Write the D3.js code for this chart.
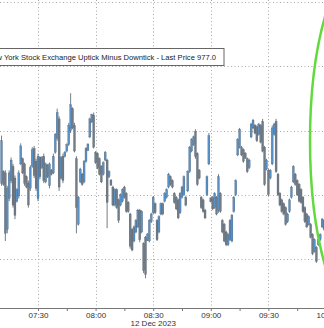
<!DOCTYPE html>
<html>
<head>
<meta charset="utf-8">
<script src="https://cdn.jsdelivr.net/npm/d3@7/dist/d3.min.js"></script>
<style>
    html, body { margin: 0; padding: 0; background: #fff; }
    svg { display: block; }
    text { font-family: 'Liberation Sans', Arial, sans-serif; }
</style>
</head>
<body>
<div id="chart"></div>
<script>
// NYSE TICK, 1 minute bars from 07:11 (12 Dec 2023)
const opens = [
    90, 180, 170, -270, -30, 110, 220, 130, -50, -10, 240, 280, 240, 140, 90, 50, 220, 360, 260, -30,
    290, 210, 300, 100, 230, 70, 190, 170, 330, 440, 590, 130, 300, 300, 340, 390, 500, 670, 540, 280,
    -230, 100, 160, 100, 260, 345, 450, 565, 620, 330, 320, 280, 220, 160, 270, 270, 140, 115, 60, -80,
    40, -40, -80, -50, 60, 10, -60, -150, -270, -360, -290, -250, -120, -290, -380, -330, -355, -360, -210, -140,
    -70, -200, -290, -150, -70, -50, -20, 60, 140, 110, 10, -20, -40, -140, -20, 0, -20, 30, 180, 340,
    390, 490, 320, 190, -20, -40, -120, 0, 240, -25, -20, -100, -20, -120, 10, -200, -230, -290, -390, -350,
    -360, -130, 0, 310, 370, 370, 350, 325, 280, 210, 450, 520, 540, 530, 470, 540, 570, 370, 200, 190,
    130, 240, 470, 570, 160, 10, -40, -70, -100, -210, -130, -20, 100, 160, 110, 80, 40, -20, -100, -150,
    -230, -230, -310, -440, -410, -390, -350, -250, -200
];
const highs = [
    460, 190, 190, 70, 190, 290, 240, 150, 50, 190, 400, 290, 250, 150, 110, 230, 370, 380, 280, 320,
    300, 300, 320, 250, 240, 250, 200, 320, 480, 670, 610, 300, 320, 340, 400, 560, 790, 680, 560, 300,
    -10, 210, 170, 270, 370, 400, 600, 630, 640, 340, 330, 290, 230, 260, 340, 280, 190, 120, 70, 50,
    50, -30, 10, 50, 70, 20, -50, -140, -260, -240, -190, -110, -110, -120, -370, -320, -300, -190, -140, -10,
    -60, -190, -160, -60, -60, 20, 50, 170, 150, 120, 20, -10, -30, 20, 70, 150, -10, 190, 380, 440,
    460, 510, 330, 200, -10, -30, -110, 150, 480, -20, -10, 20, -10, 160, 20, -190, -220, -280, -300, -190,
    -150, -10, 120, 440, 520, 380, 360, 330, 290, 280, 560, 590, 550, 540, 560, 550, 590, 380, 280, 200,
    200, 540, 560, 590, 170, 20, -30, -60, -90, -140, -30, 70, 230, 170, 120, 90, 50, -10, -90, -140,
    -160, -220, -300, -340, -400, -340, -300, -180, -190
];
const lows = [
    70, 70, -360, -300, -50, 90, -100, -190, -60, -30, 230, 160, 70, 50, -100, 30, 210, 130, 30, -50,
    120, 200, 90, 90, 130, 50, 150, 160, 320, 420, 30, 120, 90, 290, 330, 380, 480, 510, 330, -300,
    -240, 90, 70, 90, 250, 340, 440, 560, 360, 240, 200, 150, 90, 150, 260, -260, 130, 70, -90, -90,
    -110, -220, -90, -60, -30, -140, -140, -420, -440, -370, -300, -260, -370, -300, -610, -650, -360, -370, -220, -150,
    -150, -360, -300, -160, -160, -60, -30, 50, 70, 50, -70, -120, -190, -150, -30, -10, -90, 20, 170, 330,
    380, 280, 70, 120, -110, -140, -190, -10, 230, -60, -120, -110, -160, -140, -140, -300, -370, -400, -400, -360,
    -370, -140, -10, 300, 360, 300, 250, 280, 170, 200, 440, 510, 470, 410, 460, 400, 330, 70, 190, -10,
    120, 230, 460, 170, -10, -90, -140, -160, -240, -220, -140, -30, 90, 70, -10, -60, -70, -140, -220, -260,
    -240, -340, -470, -450, -530, -400, -360, -260, -280
];
const closes = [
    420, 80, -300, 50, 170, 270, -80, -160, 40, 170, 380, 170, 90, 60, -80, 210, 350, 150, 50, 300,
    140, 290, 110, 240, 140, 240, 160, 300, 470, 640, 60, 290, 110, 330, 390, 540, 700, 520, 340, -100,
    -20, 200, 80, 260, 360, 395, 590, 625, 370, 250, 210, 160, 100, 250, 330, -60, 180, 75, -80, 40,
    -100, -200, 0, 40, -20, -130, -130, -400, -430, -250, -200, -120, -350, -130, -590, -620, -305, -200, -150, -20,
    -140, -350, -170, -70, -150, 10, 40, 160, 80, 60, -60, -110, -180, 10, 60, 140, -80, 180, 370, 430,
    450, 300, 80, 130, -100, -130, -180, 140, 460, -55, -110, 10, -150, 140, -130, -290, -360, -390, -310, -200,
    -160, -20, 110, 430, 510, 310, 260, 285, 180, 270, 550, 580, 480, 420, 550, 410, 340, 80, 270, 0,
    190, 520, 550, 180, 0, -80, -130, -150, -230, -150, -40, 60, 220, 80, 0, -50, -60, -130, -210, -250,
    -170, -330, -460, -350, -520, -350, -310, -190, -270
];
const gridValues = [-500, 0, 500, 1000, 1500];
const tickLabels = ['07:30', '08:00', '08:30', '09:00', '09:30', '10:00'];
const dateLabel = '12 Dec 2023';
const legendText = 'New York Stock Exchange Uptick Minus Downtick - Last Price 977.0';

const width = 324;
const height = 328;
const axisY = 308;

const parse = d3.timeParse('%Y-%m-%d %H:%M');
const start = parse('2023-12-12 07:11');
const times = opens.map((d, i) => d3.timeMinute.offset(start, i));

const x = d3.scaleTime()
    .domain([parse('2023-12-12 07:30'), parse('2023-12-12 10:00')])
    .range([38, 326]);

const y = d3.scaleLinear().domain([-500, 1500]).range([259, 2]);

const svg = d3.select('#chart').append('svg').attr('width', width).attr('height', height);

// dotted grid
const majorTicks = tickLabels.map(t => parse('2023-12-12 ' + t));

svg.append('g')
    .selectAll('line')
    .data(gridValues)
    .join('line')
    .attr('x1', 0)
    .attr('x2', width)
    .attr('y1', d => Math.round(y(d)) + 0.5)
    .attr('y2', d => Math.round(y(d)) + 0.5)
    .attr('stroke', '#a8a8a8')
    .attr('stroke-dasharray', '1,2.5');

svg.append('g')
    .selectAll('line')
    .data(majorTicks)
    .join('line')
    .attr('x1', d => Math.round(x(d)) + 0.5)
    .attr('x2', d => Math.round(x(d)) + 0.5)
    .attr('y1', 0)
    .attr('y2', axisY)
    .attr('stroke', '#a8a8a8')
    .attr('stroke-dasharray', '1,2.5');

// candles
const bw = 2;
const candles = svg.append('g')
    .selectAll('g')
    .data(times.map((t, i) => ({ t, o: opens[i], h: highs[i], l: lows[i], c: closes[i] })))
    .join('g');

candles.append('line')
    .attr('x1', d => x(d.t))
    .attr('x2', d => x(d.t))
    .attr('y1', d => y(d.h))
    .attr('y2', d => y(d.l))
    .attr('stroke', '#3a4550')
    .attr('stroke-width', 0.7);

candles.append('rect')
    .attr('x', d => x(d.t) - bw / 2)
    .attr('width', bw)
    .attr('y', d => y(Math.max(d.o, d.c)))
    .attr('height', d => Math.max(1, Math.abs(y(d.o) - y(d.c))))
    .attr('fill', d => (d.c >= d.o ? '#5791c8' : '#717c87'))
    .attr('stroke', '#48545f')
    .attr('stroke-width', 0.25);

// legend box
svg.append('rect')
    .attr('x', -40)
    .attr('y', 48.5)
    .attr('width', 264)
    .attr('height', 17)
    .attr('fill', '#fff')
    .attr('stroke', '#666');

svg.append('text')
    .attr('x', 216)
    .attr('y', 60)
    .attr('text-anchor', 'end')
    .attr('font-size', 7.6)
    .attr('fill', '#222')
    .text(legendText);

// bottom axis
const axis = d3.axisBottom(x)
    .ticks(d3.timeMinute.every(15))
    .tickSize(3)
    .tickFormat(d => (d.getMinutes() % 30 === 0 ? d3.timeFormat('%H:%M')(d) : ''));

const ax = svg.append('g').attr('transform', `translate(0,${axisY})`).call(axis);
ax.select('.domain').remove();
ax.selectAll('line').attr('stroke', '#777');
ax.selectAll('text').attr('font-size', 8).attr('fill', '#333').attr('dy', '0.55em').attr('font-family', "'Liberation Sans', Arial, sans-serif");

svg.append('line')
    .attr('x1', 0)
    .attr('x2', width)
    .attr('y1', axisY + 0.5)
    .attr('y2', axisY + 0.5)
    .attr('stroke', '#777');

svg.append('text')
    .attr('x', x(majorTicks[2]))
    .attr('y', 326)
    .attr('text-anchor', 'middle')
    .attr('font-size', 8)
    .attr('fill', '#333')
    .text(dateLabel);

// highlight ellipse
svg.append('ellipse')
    .attr('cx', 370)
    .attr('cy', 141)
    .attr('rx', 60)
    .attr('ry', 188)
    .attr('fill', 'none')
    .attr('stroke', '#62da3e')
    .attr('stroke-width', 2.5);
</script>
</body>
</html>
